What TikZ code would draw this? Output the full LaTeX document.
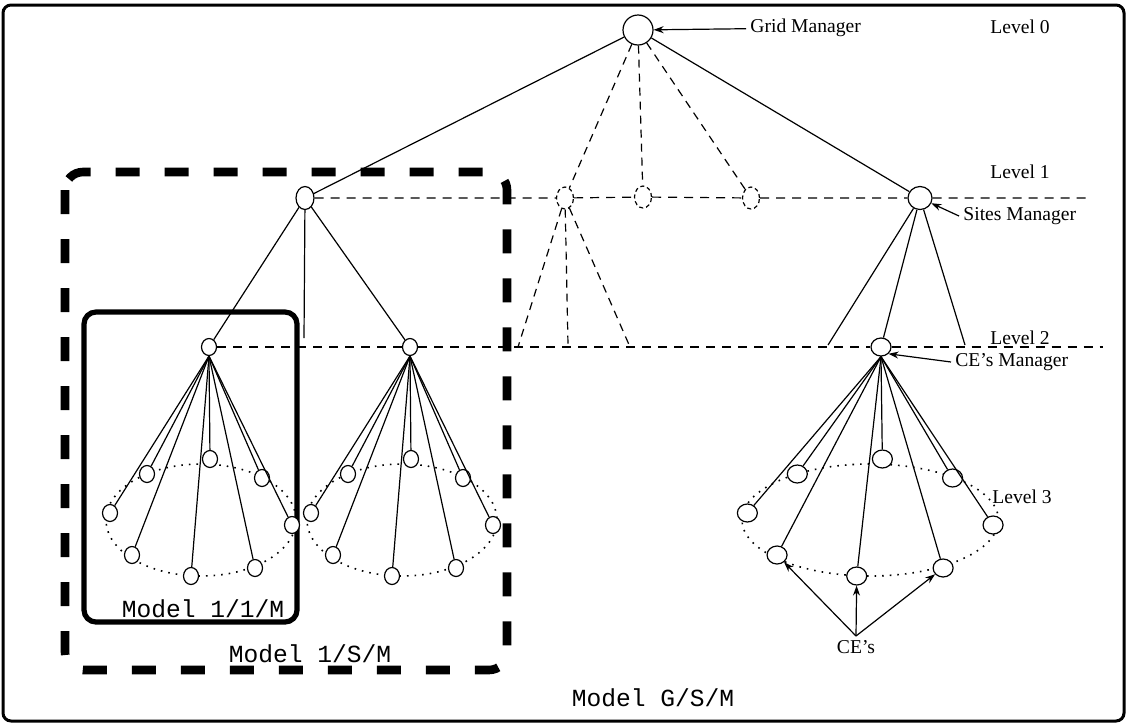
\documentclass[tikz,border=0pt]{standalone}
\usepackage{fontspec}
\setmainfont{Liberation Serif}
\setmonofont{Liberation Mono}
\usetikzlibrary{shapes.geometric,arrows.meta,calc}

% cone of computing elements below a CE's manager
% #1 = manager node, #2 = horizontal stretch, #3 = style of the CE nodes
\newcommand{\drawcone}[3]{%
    \draw [rim] ($(#1)+(-8*#2,173)$) ellipse [x radius=95*#2, y radius=56];
    \foreach \dx/\dy [count=\i] in {-99/166,-62/127,1/112,53/131,83/178,-77/208,-18/229,46/221}{
        \node [#3] (#1-\i) at ($(#1)+(#2*\dx,\dy)$) {};
        \draw [link] (#1.south) -- (#1-\i);
    }
}

\begin{document}
\begin{tikzpicture}[x=0.5pt, y=-0.5pt,
    link/.style={line width=0.6pt},
    dashedlink/.style={line width=0.6pt, dash pattern=on 4pt off 3pt},
    levelline/.style={line width=0.6pt, dash pattern=on 4.5pt off 3.5pt},
    rim/.style={line width=0.8pt, dash pattern=on 0.8pt off 3pt},
    pointer/.style={line width=0.6pt, -{Stealth[length=5pt,width=3.5pt]}},
    mgr/.style={draw, ellipse, fill=white, inner sep=0pt, line width=0.6pt},
    gridnode/.style={mgr, minimum width=15pt, minimum height=15pt},
    sitenode/.style={mgr, minimum width=9pt, minimum height=11.5pt},
    ghostnode/.style={mgr, dash pattern=on 2pt off 1.5pt, minimum width=8.5pt, minimum height=11pt},
    cemgr/.style={mgr, minimum width=7.5pt, minimum height=8.5pt},
    cemgrbig/.style={mgr, minimum width=10pt, minimum height=9pt},
    cenode/.style={mgr, minimum width=7.5pt, minimum height=8.5pt},
    cenodebig/.style={mgr, minimum width=10pt, minimum height=9pt},
    lbl/.style={font=\fontsize{9.8}{12}\selectfont, inner sep=2pt},
    modeltext/.style={font=\ttfamily\fontsize{12.3}{14}\selectfont, inner sep=1pt},
    frame/.style={line width=1.5pt, rounded corners=4pt},
    modelbox/.style={line width=2.6pt, rounded corners=6pt},
    sitebox/.style={line width=4.3pt, dash pattern=on 12pt off 12.5pt, rounded corners=9pt}]
    \useasboundingbox (0,0) rectangle (1127,723);
    % outer frame
    \draw [frame] (3,5) rectangle (1124,721);
    % model boxes
    \draw [sitebox] (65,172) rectangle (507,670);
    \draw [modelbox] (84,312) rectangle (297,622);
    % level 0
    \node [gridnode] (gm) at (638,30) {};
    % level 1
    \node [sitenode] (sa) at (305,198) {};
    \node [ghostnode] (d1) at (565,198) {};
    \node [ghostnode] (d2) at (643,197) {};
    \node [ghostnode] (d3) at (751,198) {};
    \node [mgr, minimum width=12pt, minimum height=11.5pt] (sm) at (920,198) {};
    \coordinate (l1end) at (1092,198);
    % level 2
    \node [cemgr] (cm1) at (209,347) {};
    \node [cemgr] (cm2) at (410,347) {};
    \node [cemgrbig] (cem) at (881,347) {};
    \coordinate (l2end) at (1103,347);
    % loose ends of the links
    \coordinate (sastub) at (304,338);
    \coordinate (t1) at (518,347);
    \coordinate (t2) at (568,345);
    \coordinate (t3) at (630,347);
    \coordinate (s1) at (828,345);
    \coordinate (s2) at (965,345);
    % level lines
    \draw [levelline] (sa) -- (d1) -- (d2) -- (d3) -- (sm) -- (l1end);
    \draw [levelline] (cm1) -- (cm2) -- (cem) -- (l2end);
    % grid manager links
    \draw [link] (gm) -- (sa);
    \draw [link] (gm) -- (sm);
    \draw [dashedlink] (gm) -- (d1);
    \draw [dashedlink] (gm) -- (d2);
    \draw [dashedlink] (gm) -- (d3);
    % site links
    \draw [link] (sa) -- (cm1);
    \draw [link] (sa) -- (sastub);
    \draw [link] (sa) -- (cm2);
    \draw [dashedlink] (d1) -- (t1);
    \draw [dashedlink] (d1) -- (t2);
    \draw [dashedlink] (d1) -- (t3);
    \draw [link] (sm) -- (s1);
    \draw [link] (sm) -- (cem);
    \draw [link] (sm) -- (s2);
    % level 3 cones
    \drawcone{cm1}{1}{cenode}
    \drawcone{cm2}{1}{cenode}
    \drawcone{cem}{1.35}{cenodebig}
    % labels
    \node [lbl, anchor=west] (gmtxt) at (746,28) {Grid Manager};
    \node [lbl, anchor=west] (smtxt) at (959,216) {Sites Manager};
    \node [lbl, anchor=west] (cmtxt) at (951,362) {CE's Manager};
    \node [lbl, anchor=west] (lv0) at (986,27) {Level 0};
    \node [lbl, anchor=west] (lv1) at (986,172) {Level 1};
    \node [lbl, anchor=west] (lv2) at (986,338) {Level 2};
    \node [lbl, anchor=west] (lv3) at (988,497) {Level 3};
    \node [lbl] (ces) at (856,647) {CE's};
    \draw [pointer] (gmtxt) -- (gm);
    \draw [pointer] (smtxt.west) -- (sm);
    \draw [pointer] (cmtxt.west) -- (cem.south east);
    \draw [pointer] (ces.north) -- (cem-6);
    \draw [pointer] (ces.north) -- (cem-7);
    \draw [pointer] (ces.north) -- (cem-8);
    % model names
    \node [modeltext] (m11) at (203,609) {Model 1/1/M};
    \node [modeltext] (m1s) at (310,654) {Model 1/S/M};
    \node [modeltext] (mgs) at (653,698) {Model G/S/M};
\end{tikzpicture}
\end{document}
